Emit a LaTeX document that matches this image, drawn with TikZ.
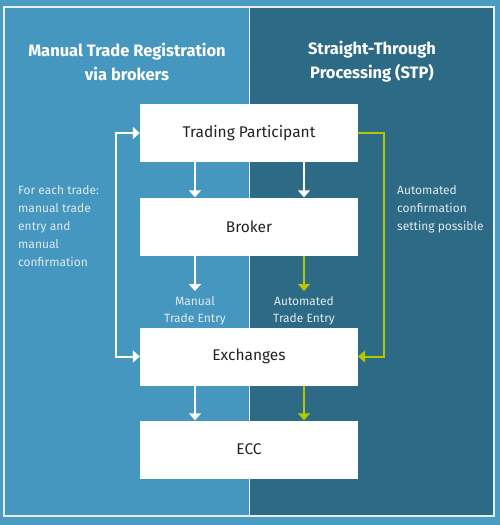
\documentclass[tikz,border=0pt]{standalone}
\usepackage{fontspec}
\setmainfont{Fira Sans}
\usetikzlibrary{arrows.meta}

\definecolor{bgblue}{HTML}{4A9CC2}
\definecolor{leftblue}{HTML}{4697C0}
\definecolor{rightblue}{HTML}{2D6A86}
\definecolor{stpgreen}{HTML}{B4C800}
\definecolor{txtgray}{HTML}{E0E9EE}
\definecolor{boxtext}{HTML}{1E2328}

\tikzset{
    box/.style={fill=white, minimum width=218pt, minimum height=58pt, inner sep=0pt,
        font=\fontsize{15.5}{18}\selectfont, text=boxtext},
    flow/.style={line width=2pt, -{Triangle[width=12pt,length=7pt]}},
    note/.style={text=txtgray, font=\fontsize{12}{18}\selectfont, inner sep=0pt},
    head/.style={text=white, font=\bfseries\fontsize{16.5}{24}\selectfont, align=center, inner sep=0pt}
}

\begin{document}
\begin{tikzpicture}[x=1pt, y=-1pt]
            \useasboundingbox (0,0) rectangle (500,525);

            % Background and the two halves
            \fill [bgblue] (0,0) rectangle (500,525);
            \fill [leftblue] (4,7) rectangle (249,516);
            \fill [rightblue] (249,7) rectangle (494,516);
            \draw [white!85!bgblue, line width=1.2pt] (4,7) rectangle (494,516);
            \draw [white!90!bgblue, line width=0.8pt] (249,7) -- (249,516);

            % Headings
            \node [head] (hmanual) at (127,62) {Manual Trade Registration\\via brokers};
            \node [head] (hstp) at (372,62) {Straight-Through\\Processing (STP)};

            % Boxes
            \node [box] (tp) at (249,133) {Trading Participant};
            \node [box] (broker) at (249,226.5) {Broker};
            \node [box] (exch) at (249,356.5) {Exchanges};
            \node [box] (ecc) at (249,449.5) {ECC};

            % Columns for the arrows
            \coordinate (cl) at (195,0);
            \coordinate (cr) at (304,0);
            \coordinate (entry) at (0,291);
            \coordinate (loopl) at (116,240);
            \coordinate (loopr) at (384,240);

            % Downward arrows
            \foreach \c/\colA/\colB in {cl/white/white, cr/white/stpgreen} {
                \draw [flow, \colA] (tp.south -| \c) -- (broker.north -| \c);
                \draw [flow, \colB] (broker.south -| \c) -- (entry -| \c);
                \draw [flow, \colB] (exch.south -| \c) -- (ecc.north -| \c);
            }

            % Loops at the sides
            \draw [flow, white, {Triangle[width=12pt,length=7pt]}-{Triangle[width=12pt,length=7pt]}]
                (tp.west) -| (loopl) |- (exch.west);
            \draw [flow, stpgreen] (tp.east) -| (loopr) |- (exch.east);

            % Notes
            \node [note, align=left, anchor=north west] (nmanual) at (18,185)
                {For each trade:\\manual trade\\entry and\\manual\\confirmation};
            \node [note, align=left, anchor=north west] (nstp) at (397,185)
                {Automated\\confirmation\\setting possible};
            \node [note, align=center, anchor=south, font=\fontsize{12}{17}\selectfont] (nentryl) at (195,325)
                {Manual\\Trade Entry};
            \node [note, align=center, anchor=south, font=\fontsize{12}{17}\selectfont] (nentryr) at (304,325)
                {Automated\\Trade Entry};

        \end{tikzpicture}
\end{document}
